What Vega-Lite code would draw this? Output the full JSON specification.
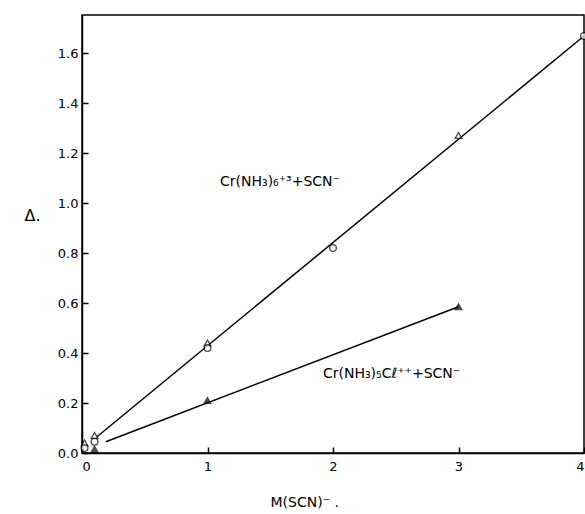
{
  "$schema": "https://vega.github.io/schema/vega-lite/v6.json",
  "autosize": "none",
  "width": 502,
  "height": 438,
  "padding": {"left": 82, "top": 15, "right": 1, "bottom": 61},
  "background": "white",
  "config": {
    "view": {"stroke": "black", "strokeWidth": 1.5},
    "font": "DejaVu Sans",
    "axis": {"grid": false, "domainColor": "black", "domainWidth": 1.5, "tickColor": "black", "tickWidth": 1.5, "labelColor": "black", "titleColor": "black", "labelFont": "DejaVu Sans", "titleFont": "DejaVu Sans", "labelFontSize": 13, "titleFontWeight": "normal"}
  },
  "datasets": {
    "pts": [
      {"x": 0.02, "y": 0.04, "kind": "open triangle"},
      {"x": 0.02, "y": 0.02, "kind": "open circle"},
      {"x": 0.1, "y": 0.07, "kind": "open triangle"},
      {"x": 0.1, "y": 0.045, "kind": "open circle"},
      {"x": 0.1, "y": 0.015, "kind": "filled triangle"},
      {"x": 1, "y": 0.44, "kind": "open triangle"},
      {"x": 1, "y": 0.42, "kind": "open circle"},
      {"x": 2, "y": 0.82, "kind": "open circle"},
      {"x": 3, "y": 1.27, "kind": "open triangle"},
      {"x": 4, "y": 1.668, "kind": "open circle"},
      {"x": 1, "y": 0.21, "kind": "filled triangle"},
      {"x": 3, "y": 0.585, "kind": "filled triangle"}
    ],
    "lines": [
      {"x": 0.117, "y": 0.064, "line": "hex"},
      {"x": 4, "y": 1.668, "line": "hex"},
      {"x": 0.19, "y": 0.045, "line": "chloro"},
      {"x": 3, "y": 0.585, "line": "chloro"}
    ],
    "labels": [
      {"x": 1.1, "y": 1.07, "text": "Cr(NH₃)₆⁺³+SCN⁻"},
      {"x": 1.92, "y": 0.3, "text": "Cr(NH₃)₅Cℓ⁺⁺+SCN⁻"}
    ]
  },
  "layer": [
    {
      "data": {"name": "lines"},
      "mark": {"type": "line", "color": "black", "strokeWidth": 1.5},
      "encoding": {
        "x": {"field": "x", "type": "quantitative", "scale": {"domain": [0, 4], "nice": false},
          "axis": {"values": [0, 1, 2, 3, 4], "format": "d", "tickSize": -6, "labelPadding": 13, "title": "M(SCN)⁻ .", "titleFontSize": 14, "titleX": 188, "titleAlign": "left", "titlePadding": 22}},
        "y": {"field": "y", "type": "quantitative", "scale": {"domain": [0, 1.752], "nice": false},
          "axis": {"values": [0, 0.2, 0.4, 0.6, 0.8, 1.0, 1.2, 1.4, 1.6], "format": ".1f", "tickSize": -6, "labelPadding": 10, "title": "Δ.", "titleFontSize": 16, "titleAngle": 0, "titleX": -58, "titleY": 200, "titleAlign": "left", "titleBaseline": "middle"}},
        "detail": {"field": "line"}
      }
    },
    {
      "data": {"name": "pts"},
      "mark": {"type": "point", "filled": true, "stroke": "black", "strokeWidth": 1.3, "size": 45},
      "encoding": {
        "x": {"field": "x", "type": "quantitative"},
        "y": {"field": "y", "type": "quantitative"},
        "shape": {"field": "kind", "type": "nominal", "legend": null,
          "scale": {"domain": ["open circle", "open triangle", "filled triangle"], "range": ["circle", "triangle-up", "triangle-up"]}},
        "fill": {"field": "kind", "type": "nominal", "legend": null,
          "scale": {"domain": ["open circle", "open triangle", "filled triangle"], "range": ["white", "white", "black"]}}
      }
    },
    {
      "data": {"name": "labels"},
      "mark": {"type": "text", "align": "left", "baseline": "alphabetic", "fontSize": 14, "font": "DejaVu Sans", "color": "black"},
      "encoding": {
        "x": {"field": "x", "type": "quantitative"},
        "y": {"field": "y", "type": "quantitative"},
        "text": {"field": "text"}
      }
    }
  ]
}
